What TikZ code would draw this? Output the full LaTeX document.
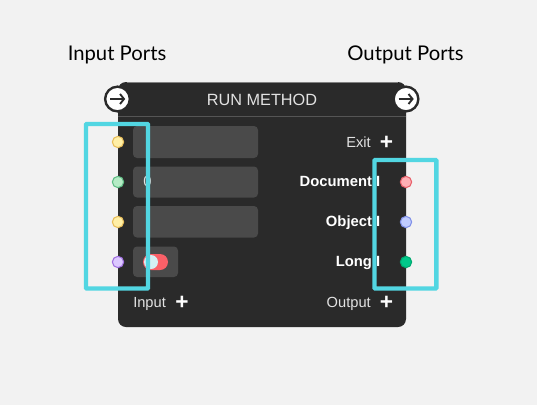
\documentclass[tikz,border=0pt]{standalone}
\usetikzlibrary{arrows.meta}
\usepackage{fontspec}
\setmainfont{Liberation Sans}
\newfontfamily\capfont{Lato}
\definecolor{bgc}{HTML}{F2F2F2}
\definecolor{bodyc}{HTML}{2A2A2A}
\definecolor{fieldc}{HTML}{4A4A4A}
\definecolor{linec}{HTML}{555555}
\definecolor{cyanc}{HTML}{52D6E2}
\definecolor{txtc}{HTML}{E2E2E2}
\definecolor{yelf}{HTML}{FFEFA6}\definecolor{yeld}{HTML}{E8BE5A}
\definecolor{grnf}{HTML}{B5EBC5}\definecolor{grnd}{HTML}{60BD85}
\definecolor{vilf}{HTML}{DCC8FF}\definecolor{vild}{HTML}{A070E0}
\definecolor{redf}{HTML}{FFB0B5}\definecolor{redd}{HTML}{E8606A}
\definecolor{bluf}{HTML}{C0CCFF}\definecolor{blud}{HTML}{8090E8}
\definecolor{emef}{HTML}{00C98A}\definecolor{emed}{HTML}{00A870}
\definecolor{pillc}{HTML}{FA6068}\definecolor{knobc}{HTML}{D4EFF4}
\tikzset{
  x=0.75pt,y=-0.75pt,
  caption/.style={font=\capfont\fontsize{15.2}{17}\selectfont,text=black,inner sep=0pt},
  fieldbox/.style={fill=fieldc,rounded corners=3pt,draw=none},
  portdot/.style={circle,minimum size=8.5pt,inner sep=0pt,line width=0.8pt},
  lbl/.style={font=\fontsize{11}{13}\selectfont,text=txtc,inner sep=0pt,anchor=base east},
  lblb/.style={font=\bfseries\fontsize{11.1}{13}\selectfont,text=white,inner sep=0pt,anchor=base east},
  plus/.style={font=\bfseries\fontsize{17}{17}\selectfont,text=white,inner sep=0pt},
  runbtn/.style={circle,fill=white,draw=bodyc,line width=1.8pt,minimum size=18.5pt,inner sep=0pt},
  highlight/.style={draw=cyanc,line width=3.3pt,rounded corners=0.6pt},
}
\begin{document}
\begin{tikzpicture}
\fill[bgc] (0,0) rectangle (537,405);
\useasboundingbox (0,0) rectangle (537,405);
% body
\fill[bodyc,rounded corners=6pt] (118,82) rectangle (406,327);
\draw[linec,line width=0.9pt] (118,116.5) -- (406,116.5);
\draw[gray,line width=0.6pt] (127,82.3) -- (398,82.3);
% captions
\node[caption] (inp) at (117,54.5) {Input Ports};
\node[caption] (outp) at (405.5,54.5) {Output Ports};
\node[font=\fontsize{12.2}{14}\selectfont,text=txtc,inner sep=0pt] (title) at (262,99.5) {RUN METHOD};
% run buttons
\node[runbtn] (bl) at (117.5,99) {};
\node[runbtn] (br) at (406,99) {};
\foreach \c in {bl,br}{
  \draw[bodyc,line width=1.4pt,-{Straight Barb[length=3pt,width=7.5pt]}] ([xshift=-5.6pt]\c.center) -- ([xshift=5.8pt]\c.center);
}
% fields
\path[fieldbox] (133,126) rectangle (258,158);
\path[fieldbox] (133,166.5) rectangle (258,197.5);
\path[fieldbox] (133,206) rectangle (258,237.5);
\path[fieldbox] (133,246.5) rectangle (178,277);
\node[font=\fontsize{11}{13}\selectfont,text=txtc,inner sep=0pt] (zero) at (147.5,181.5) {0};
% toggle
\fill[pillc,rounded corners=6pt] (143,254) rectangle (168,270);
\node[circle,fill=knobc,minimum size=10.5pt,inner sep=0pt] (knob) at (151,262) {};
% ports
\node[portdot,fill=yelf,draw=yeld] (p1) at (118,142) {};
\node[portdot,fill=grnf,draw=grnd] (p2) at (118,182) {};
\node[portdot,fill=yelf,draw=yeld] (p3) at (118,222) {};
\node[portdot,fill=vilf,draw=vild] (p4) at (118,262) {};
\node[portdot,fill=redf,draw=redd] (q1) at (406,182) {};
\node[portdot,fill=bluf,draw=blud] (q2) at (406,222) {};
\node[portdot,fill=emef,draw=emed] (q3) at (406,262) {};
% labels
\node[lbl] (exit) at (371,147) {Exit};
\node[plus] (exitp) at (386.5,143) {+};
\node[lblb] (doc) at (380.5,186) {Document I};
\node[lblb] (obj) at (380.5,226) {Object I};
\node[lblb] (long) at (380.5,266) {Long I};
\node[lbl,anchor=base west] (inl) at (133,307) {Input};
\node[plus] (inp2) at (182,303) {+};
\node[lbl] (oul) at (371,307) {Output};
\node[plus] (oup) at (386.5,303) {+};
% highlights
\draw[highlight] (86,124) rectangle (148,288.5);
\draw[highlight] (374.5,160) rectangle (436.3,288.5);
\end{tikzpicture}
\end{document}
